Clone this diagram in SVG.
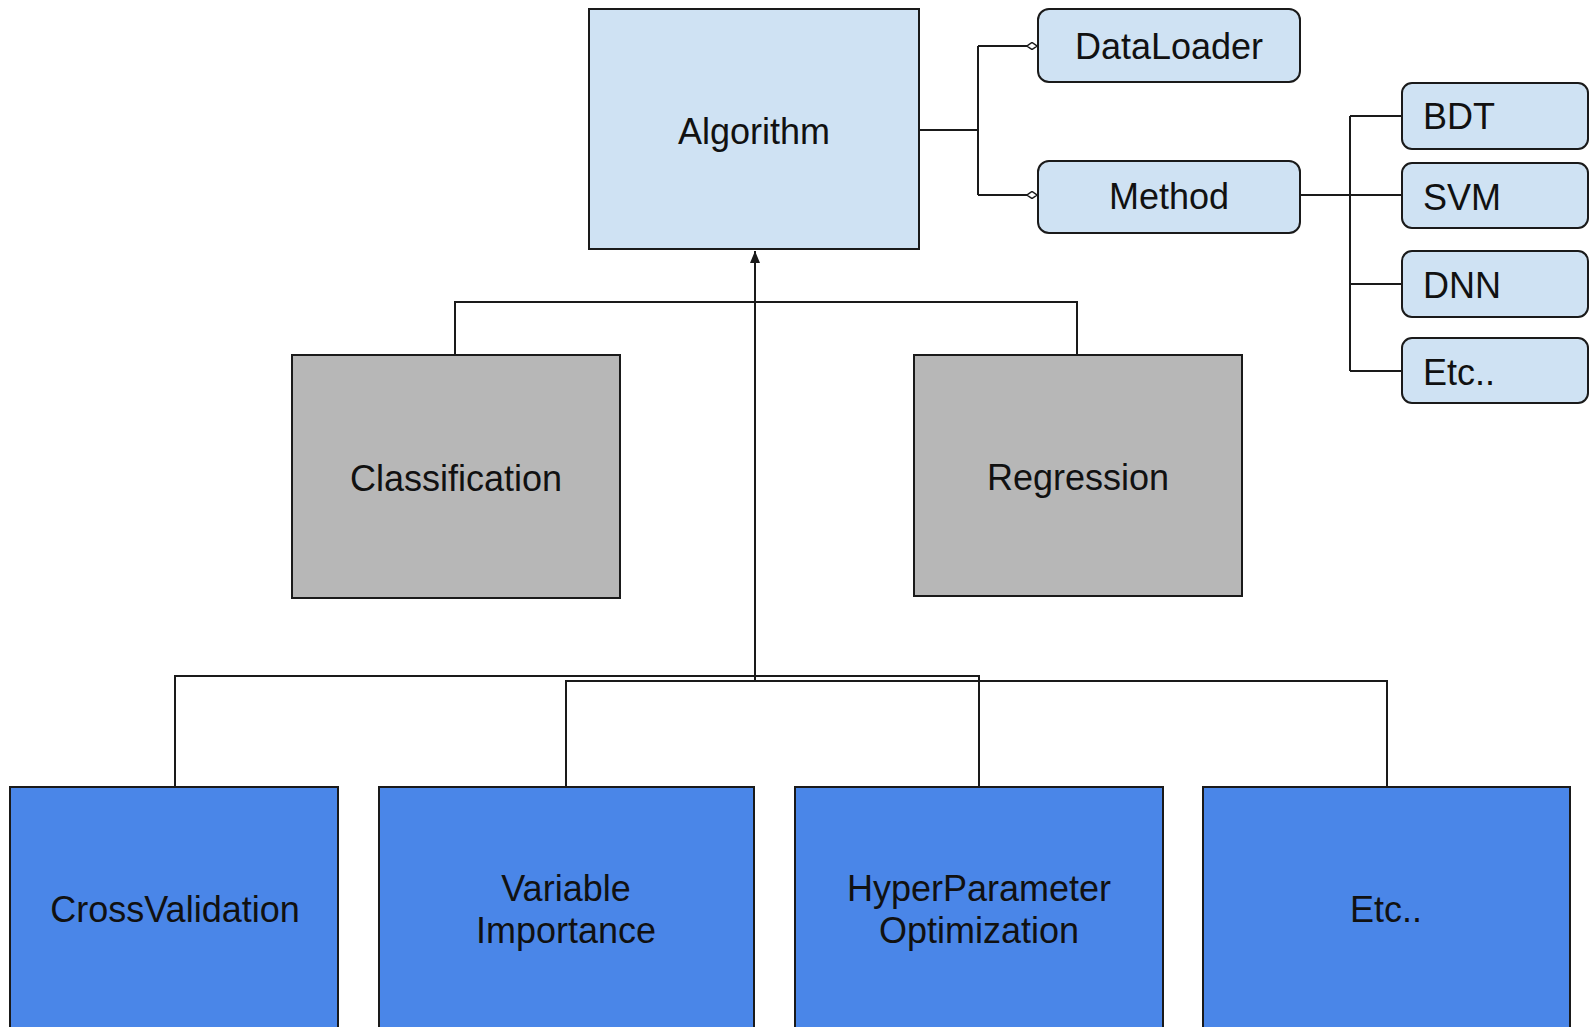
<svg xmlns="http://www.w3.org/2000/svg" width="1591" height="1027" viewBox="0 0 1591 1027">
<defs>
<style>
.box{stroke:#1a1a1a;stroke-width:2}
.lb{fill:#cfe2f3}
.gr{fill:#b7b7b7}
.bl{fill:#4a86e8}
.t{font-family:"Liberation Sans",Arial,sans-serif;font-size:36px;fill:#111}
.c{text-anchor:middle}
.ln{fill:none;stroke:#1a1a1a;stroke-width:2}
</style>
<marker id="arr" viewBox="0 0 12 10" refX="12" refY="5" markerWidth="12" markerHeight="10" markerUnits="userSpaceOnUse" orient="auto">
<path d="M0,0 L12,5 L0,10 Z" fill="#1a1a1a"/>
</marker>
<marker id="dia" viewBox="0 0 10 8" refX="10" refY="4" markerWidth="10" markerHeight="8" markerUnits="userSpaceOnUse" orient="auto">
<path d="M0,4 L5,0.5 L10,4 L5,7.5 Z" fill="#fff" stroke="#1a1a1a" stroke-width="1.5"/>
</marker>
</defs>
<rect width="1591" height="1027" fill="#fff"/>
<g id="connectors">
<path class="ln" d="M919,130 H978 M978,46 V195"/>
<path class="ln" d="M978,46 H1037" marker-end="url(#dia)"/>
<path class="ln" d="M978,195 H1037" marker-end="url(#dia)"/>
<path class="ln" d="M1300,195 H1402 M1350,116 V371 M1350,116 H1402 M1350,284 H1402 M1350,371 H1402"/>
<path class="ln" d="M455,355 V302 H1077 V355"/>
<path class="ln" d="M755,680 V251" marker-end="url(#arr)"/>
<path class="ln" d="M175,787 V676 H979 V787"/>
<path class="ln" d="M566,787 V681 H1387 V787"/>
</g>
<g id="algorithm">
<rect class="box lb" x="589" y="9" width="330" height="240"/>
<text class="t c" x="754" y="144">Algorithm</text>
</g>
<g id="dataloader">
<rect class="box lb" x="1038" y="9" width="262" height="73" rx="11"/>
<text class="t c" x="1169" y="59">DataLoader</text>
</g>
<g id="method">
<rect class="box lb" x="1038" y="161" width="262" height="72" rx="11"/>
<text class="t c" x="1169" y="209">Method</text>
</g>
<g id="bdt">
<rect class="box lb" x="1402" y="83" width="186" height="66" rx="10"/>
<text class="t" x="1423" y="129">BDT</text>
</g>
<g id="svm">
<rect class="box lb" x="1402" y="163" width="186" height="65" rx="10"/>
<text class="t" x="1423" y="210">SVM</text>
</g>
<g id="dnn">
<rect class="box lb" x="1402" y="251" width="186" height="66" rx="10"/>
<text class="t" x="1423" y="298">DNN</text>
</g>
<g id="etc-method">
<rect class="box lb" x="1402" y="338" width="186" height="65" rx="10"/>
<text class="t" x="1423" y="385">Etc..</text>
</g>
<g id="classification">
<rect class="box gr" x="292" y="355" width="328" height="243"/>
<text class="t c" x="456" y="491">Classification</text>
</g>
<g id="regression">
<rect class="box gr" x="914" y="355" width="328" height="241"/>
<text class="t c" x="1078" y="490">Regression</text>
</g>
<g id="crossvalidation">
<rect class="box bl" x="10" y="787" width="328" height="260"/>
<text class="t c" x="175" y="922">CrossValidation</text>
</g>
<g id="variable-importance">
<rect class="box bl" x="379" y="787" width="375" height="260"/>
<text class="t c" x="566" y="901">Variable</text>
<text class="t c" x="566" y="943">Importance</text>
</g>
<g id="hyperparameter">
<rect class="box bl" x="795" y="787" width="368" height="260"/>
<text class="t c" x="979" y="901">HyperParameter</text>
<text class="t c" x="979" y="943">Optimization</text>
</g>
<g id="etc-bottom">
<rect class="box bl" x="1203" y="787" width="367" height="260"/>
<text class="t c" x="1386" y="922">Etc..</text>
</g>
</svg>
